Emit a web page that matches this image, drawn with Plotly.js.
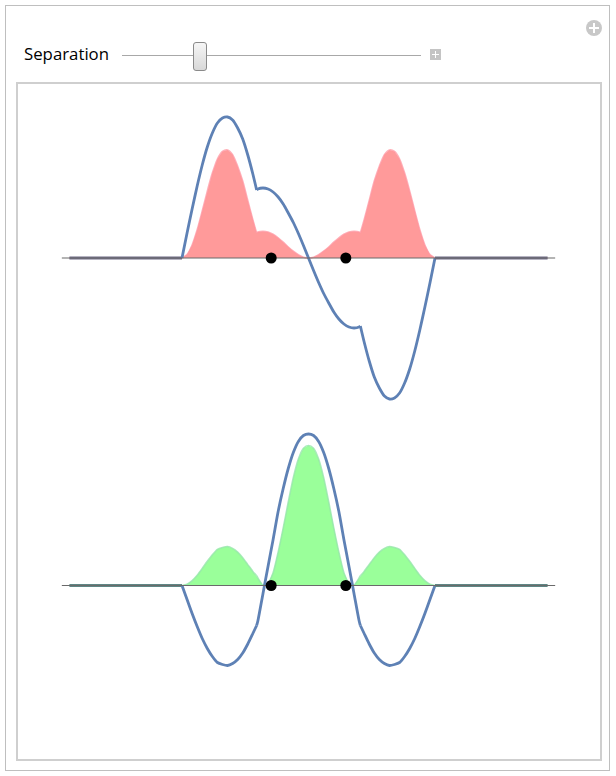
<!DOCTYPE html>
<html>
<head>
<meta charset="utf-8">
<script src="https://cdn.plot.ly/plotly-3.0.1.min.js"></script>
<style>
  body { margin: 0; background: #fff; }
  #page { position: relative; width: 616px; height: 776px; font-family: "Open Sans", "Noto Sans", sans-serif; }
  #frame { position: absolute; left: 5px; top: 5px; width: 605px; height: 766px; border: 1px solid #bfbfbf; box-sizing: border-box; }
  #box { position: absolute; left: 16px; top: 82px; width: 586px; height: 679px; border: 2px solid #cfcfcf; box-sizing: border-box; }
  #label { position: absolute; left: 24px; top: 43px; font-size: 16.8px; line-height: 22px; color: #000; }
  #track { position: absolute; left: 122px; top: 55px; width: 299px; height: 1px; background: #a8a8a8; }
  #thumb { position: absolute; left: 193px; top: 42px; width: 14px; height: 29px; box-sizing: border-box;
           border: 1px solid #8a8a8a; border-radius: 3px; background: linear-gradient(#f6f6f6, #d8d8d8); }
  #plusbox { position: absolute; left: 430px; top: 49px; width: 11px; height: 11px; background: #c4c4c4; }
  #plusbox:before, #plusbox:after, #plusround:before, #plusround:after { content: ""; position: absolute; background: #fff; }
  #plusbox:before { left: 5px; top: 2px; width: 1px; height: 7px; }
  #plusbox:after { left: 2px; top: 5px; width: 7px; height: 1px; }
  #plusround { position: absolute; left: 586px; top: 20px; width: 16px; height: 16px; border-radius: 50%; background: #c8c8c8; }
  #plusround:before { left: 7px; top: 3px; width: 2px; height: 10px; }
  #plusround:after { left: 3px; top: 7px; width: 10px; height: 2px; }
  #plot { position: absolute; left: 16px; top: 82px; width: 586px; height: 679px; }
</style>
</head>
<body>
<div id="page">
  <div id="frame"></div>
  <div id="plusround"></div>
  <div id="label">Separation</div>
  <div id="track"></div>
  <div id="thumb"></div>
  <div id="plusbox"></div>
  <div id="box"></div>
  <div id="plot"></div>
</div>
<script>
// positions along the well (well walls at -1 and 1), flat parts out to +-1.89
var xs = [-1.89, -1.00, -0.96, -0.92, -0.88, -0.84, -0.80, -0.76, -0.72, -0.68, -0.64, -0.60, -0.56, -0.52, -0.48, -0.44, -0.41, -0.40,
          -0.36, -0.32, -0.28, -0.24, -0.20, -0.16, -0.12, -0.08, -0.04, 0.00,
          0.04, 0.08, 0.12, 0.16, 0.20, 0.24, 0.28, 0.32, 0.36, 0.40, 0.41, 0.44, 0.48, 0.52, 0.56, 0.60, 0.64, 0.68,
          0.72, 0.76, 0.80, 0.84, 0.88, 0.92, 0.96, 1.00, 1.89];

// antisymmetric state (top) wavefunction and probability density
var psiOdd = [0, 0, 0.25, 0.49, 0.72, 0.93, 1.11, 1.25, 1.35, 1.40, 1.41, 1.38, 1.30, 1.19, 1.03, 0.84, 0.68, 0.69,
              0.70, 0.69, 0.66, 0.61, 0.54, 0.45, 0.355, 0.245, 0.125, 0,
              -0.125, -0.245, -0.355, -0.45, -0.54, -0.61, -0.66, -0.69, -0.70, -0.69, -0.68, -0.84, -1.03, -1.19, -1.30, -1.38, -1.41, -1.40,
              -1.35, -1.25, -1.11, -0.93, -0.72, -0.49, -0.25, 0, 0];
var densOdd = [0, 0, 0.034, 0.130, 0.282, 0.470, 0.669, 0.849, 0.990, 1.065, 1.080, 1.034, 0.918, 0.769, 0.576, 0.383, 0.251, 0.259,
               0.266, 0.259, 0.237, 0.202, 0.158, 0.110, 0.068, 0.033, 0.0085, 0,
               0.0085, 0.033, 0.068, 0.110, 0.158, 0.202, 0.237, 0.259, 0.266, 0.259, 0.251, 0.383, 0.576, 0.769, 0.918, 1.034, 1.080, 1.065,
               0.990, 0.849, 0.669, 0.470, 0.282, 0.130, 0.034, 0, 0];

// symmetric state (bottom)
var psiEven = [0, 0, -0.14, -0.28, -0.41, -0.53, -0.63, -0.71, -0.77, -0.79, -0.80, -0.78, -0.74, -0.675, -0.585, -0.48, -0.40, -0.353,
               -0.082, 0.191, 0.458, 0.74, 0.97, 1.17, 1.33, 1.44, 1.50, 1.515,
               1.50, 1.44, 1.33, 1.17, 0.97, 0.74, 0.458, 0.191, -0.082, -0.353, -0.40, -0.48, -0.585, -0.675, -0.74, -0.78, -0.80, -0.79,
               -0.77, -0.71, -0.63, -0.53, -0.41, -0.28, -0.14, 0, 0];
var densEven = [0, 0, 0.012, 0.048, 0.103, 0.171, 0.242, 0.308, 0.362, 0.381, 0.390, 0.371, 0.334, 0.278, 0.209, 0.141, 0.098, 0.076,
                0.004, 0.022, 0.128, 0.334, 0.574, 0.835, 1.079, 1.265, 1.373, 1.400,
                1.373, 1.265, 1.079, 0.835, 0.574, 0.334, 0.128, 0.022, 0.004, 0.076, 0.098, 0.141, 0.209, 0.278, 0.334, 0.371, 0.390, 0.381,
                0.362, 0.308, 0.242, 0.171, 0.103, 0.048, 0.012, 0, 0];

// horizontal axis and the two well centres (black dots)
var axisX = [-1.95, 1.95];
var axisY = [0, 0];
var dotX = [-0.295, 0.295];
var dotY = [0, 0];

// indices where the curves have corners (walls at +-1, kinks at +-0.41)
var breaks = [0, 1, 16, 38, 53, 54];

var blue = '#5e81b5';

function group(psi, dens, fill, edge, flat, ax) {
  // one fill for the whole density, so there are no seams
  var traces = [{ x: xs, y: dens, yaxis: ax, mode: 'lines', fill: 'tozeroy', fillcolor: fill,
    line: { width: 0 }, hoverinfo: 'skip' }];
  // outlines are smoothed piece by piece so the corners stay sharp
  for (var i = 0; i < breaks.length - 1; i++) {
    var a = breaks[i], b = breaks[i + 1] + 1;
    var isFlat = (i == 0 || i == breaks.length - 2);
    traces.push({ x: xs.slice(a, b), y: dens.slice(a, b), yaxis: ax, mode: 'lines',
      line: { color: edge, width: 1.6, shape: 'spline', smoothing: 0.7 }, hoverinfo: 'skip' });
    traces.push({ x: xs.slice(a, b), y: psi.slice(a, b), yaxis: ax, mode: 'lines',
      line: { color: isFlat ? flat : blue, width: 2.8, shape: 'spline', smoothing: 0.7 }, hoverinfo: 'skip' });
  }
  traces.push({ x: axisX, y: axisY, yaxis: ax, mode: 'lines', line: { color: '#6a6a6a', width: 1.1 }, hoverinfo: 'skip' });
  traces.push({ x: dotX, y: dotY, yaxis: ax, mode: 'markers', marker: { color: '#000', size: 11 }, hoverinfo: 'skip' });
  return traces;
}

var data = group(psiOdd, densOdd, '#ff9a9a', 'rgba(255,150,160,0.75)', '#6e6a86', 'y')
  .concat(group(psiEven, densEven, '#9aff9a', 'rgba(150,230,170,0.8)', '#5f8785', 'y2'));

var layout = {
  width: 586,
  height: 679,
  margin: { l: 0, r: 0, t: 0, b: 0 },
  paper_bgcolor: 'rgba(0,0,0,0)',
  plot_bgcolor: 'rgba(0,0,0,0)',
  showlegend: false,
  xaxis: { range: [-2.3123, 2.3202], visible: false },
  yaxis: { range: [-5.03, 1.76], visible: false },
  yaxis2: { range: [-1.755, 5.035], overlaying: 'y', visible: false }
};

Plotly.newPlot('plot', data, layout, { staticPlot: true, displayModeBar: false });
</script>
</body>
</html>
